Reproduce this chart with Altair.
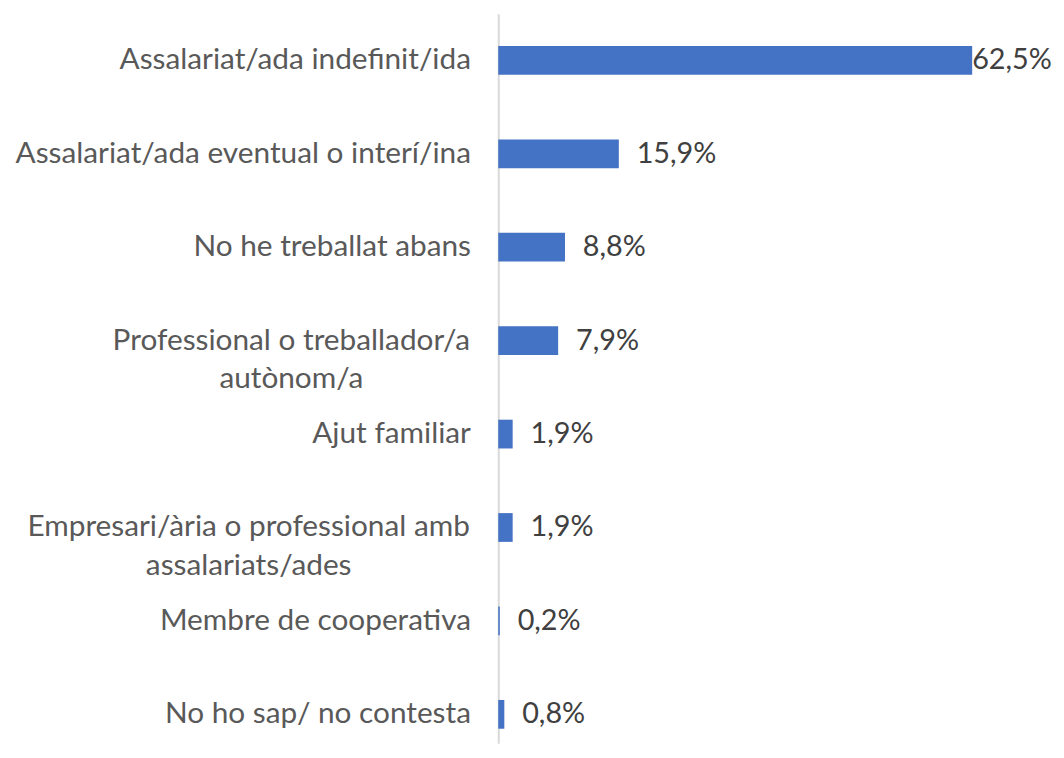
import altair as alt
import pandas as pd

categories = [
    "Assalariat/ada indefinit/ida",
    "Assalariat/ada eventual o interí/ina",
    "No he treballat abans",
    "Professional o treballador/a|autònom/a",
    "Ajut familiar",
    "Empresari/ària o professional amb|assalariats/ades",
    "Membre de cooperativa",
    "No ho sap/ no contesta",
]
values = [62.5, 15.9, 8.8, 7.9, 1.9, 1.9, 0.2, 0.8]

df = pd.DataFrame({"cat": categories, "value": values})

FONT = "Lato"
LABEL_COLOR = "#595959"
VALUE_COLOR = "#404040"
BAR_COLOR = "#4472C4"

y_enc = alt.Y(
    "cat:N",
    sort=categories,
    scale=alt.Scale(paddingInner=0.692, paddingOuter=0.25, align=0.69),
    axis=alt.Axis(
        title=None,
        ticks=False,
        domainColor="#D9D9D9",
        domainWidth=2,
        labelFont=FONT,
        labelFontSize=30,
        labelColor=LABEL_COLOR,
        labelLimit=0,
        labelOverlap=False,
        labelLineHeight=39,
        labelExpr="split(datum.label, '|')",
        labelAlign={
            "condition": {"test": "indexof(datum.value, '|') >= 0", "value": "center"},
            "value": "right",
        },
        labelPadding={
            "condition": [
                {"test": "indexof(datum.value, 'Professional o') == 0", "value": 209},
                {"test": "indexof(datum.value, 'Empresari') == 0", "value": 252},
            ],
            "value": 28,
        },
    ),
)

x_enc = alt.X(
    "value:Q",
    scale=alt.Scale(domain=[0, 64], nice=False, zero=True),
    axis=None,
)

base = alt.Chart(df).encode(y=y_enc, x=x_enc).transform_calculate(
    lbl="replace(format(datum.value, '.1f'), '.', ',') + '%'"
)

bars = base.mark_bar(color=BAR_COLOR)

txt_small = base.transform_filter("datum.value < 50").mark_text(
    align="left", baseline="middle", dx=18, font=FONT, fontSize=29, color=VALUE_COLOR
).encode(text="lbl:N")

txt_big = base.transform_filter("datum.value >= 50").mark_text(
    align="left", baseline="middle", dx=0, font=FONT, fontSize=29, color=VALUE_COLOR
).encode(text="lbl:N")

chart = (
    alt.layer(bars, txt_small, txt_big)
    .properties(
        width=489,
        height=735,
        background="white",
        autosize=alt.AutoSizeParams(type="none"),
        padding={"left": 494, "top": 3, "right": 73, "bottom": 0},
    )
    .configure_view(stroke=None, strokeWidth=0)
)

chart.save("out.html", embed_options={"renderer": "svg", "actions": False})
